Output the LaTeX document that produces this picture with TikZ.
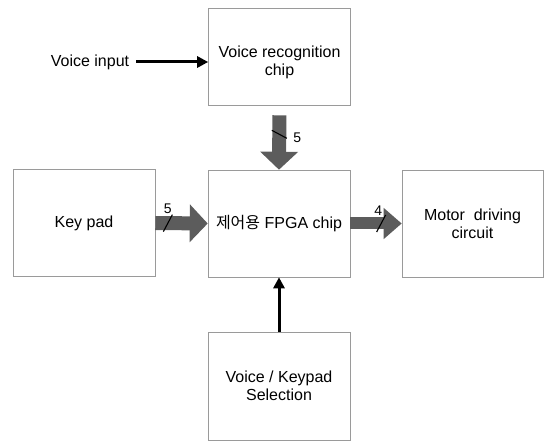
\documentclass[tikz,border=0pt]{standalone}
\usepackage{fontspec}
\setmainfont{Liberation Sans}
\newfontfamily\kor{Noto Sans CJK KR}
\usetikzlibrary{arrows.meta,calc,positioning}
\tikzstyle{box}=[draw=mgray, line width=0.6, minimum width=142pt, minimum height=107pt, align=center, inner sep=0pt, font=\fontsize{16}{18}\selectfont]
\tikzstyle{l1}=[line width=3]
\tikzstyle{wire}=[l1, -{Triangle[width=11pt,length=11pt]}]
\tikzstyle{bus}=[line width=14, color=mfill, -{Triangle[width=37pt,length=18pt]}]
\tikzstyle{slash}=[line width=1.1]
\tikzstyle{num}=[font=\fontsize{14}{14}\selectfont, inner sep=0pt]
\definecolor{mgray}{HTML}{9A9A9A}
\definecolor{mfill}{HTML}{5C5C5C}

\begin{document}
\begin{tikzpicture}[x=1pt,y=-1pt]
    \useasboundingbox (0,0) rectangle (546,443);
    \node[box, minimum height=97pt] (vrc) at (279.5, 56.5) {};
    \node[align=center, inner sep=0pt, font=\fontsize{16}{18}\selectfont] at ($(vrc.center)+(0,6)$) {Voice recognition\\chip};
    \node[box] (fpga)   at (279, 223.5) {{\kor 제어용} FPGA chip};
    \node[box] (keypad) at (84, 223)    {Key pad};
    \node[box, minimum width=141pt] (motor) at (472.5, 223.5) {Motor\ \ driving\\circuit};
    \node[box, minimum height=108pt] (sel) at (279, 386) {Voice / Keypad\\Selection};
    \node[font=\fontsize{16}{18}\selectfont, inner sep=0pt] (vin) at (90, 62) {Voice input};

    \draw[wire, shorten <=7pt] (vin.east) -- (vin.east -| vrc.west);
    \draw[wire] (sel.north) -- (fpga.south);

    \draw[bus, shorten <=10pt] (vrc.south) -- coordinate[pos=0.45] (vbus) (fpga.north);
    \draw[bus] (keypad.east) -- coordinate[pos=0.24] (kbus) (fpga.west);
    \draw[bus, line width=12, -{Triangle[width=30pt,length=18pt]}] (fpga.east) -- coordinate[pos=0.6] (mbus) (motor.west);

    \draw[slash] ($(vbus)+(-7.5,-4)$) -- ($(vbus)+(7.5,4)$);
    \draw[slash] ($(kbus)+(-4.5,8.5)$) -- ($(kbus)+(4.5,-8.5)$);
    \draw[slash] ($(mbus)+(-4.5,8.5)$) -- ($(mbus)+(4.5,-8.5)$);
    \node[num] at ($(vbus)+(18,3)$) {5};
    \node[num] at ($(kbus)+(0,-14)$) {5};
    \node[num] at ($(mbus)+(-3,-13)$) {4};
\end{tikzpicture}
\end{document}
